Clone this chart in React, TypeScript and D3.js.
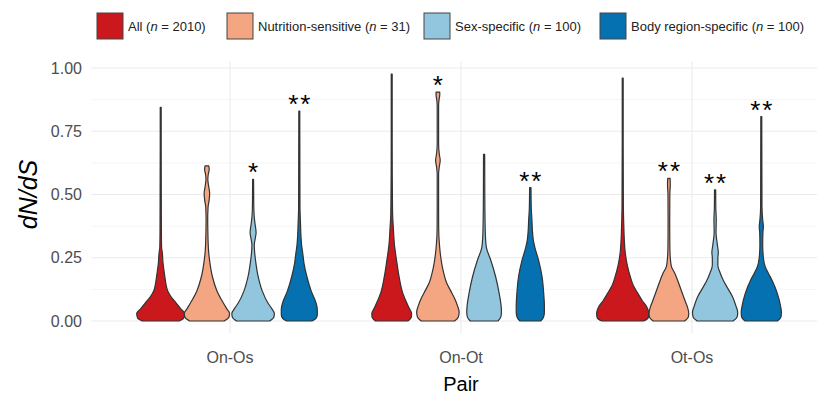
import * as d3 from 'd3';
import React, { useEffect, useRef } from 'react';

const pairs = ['On-Os', 'On-Ot', 'Ot-Os'];
const groups = ['All', 'Nutrition-sensitive', 'Sex-specific', 'Body region-specific'];
const groupN = [2010, 31, 100, 100];
const groupColors = ['#CB181D', '#F4A582', '#92C5DE', '#0571B0'];
const yTicks = [0, 0.25, 0.5, 0.75, 1];
const yMinor = [0.125, 0.375, 0.625, 0.875];

// violin outlines: [dN/dS, relative half-width]
const onOsProfiles: [number, number][][] = [
    [[0, 0.8], [0.012, 1.0], [0.03, 1.04], [0.05, 0.85], [0.07, 0.68], [0.1, 0.42], [0.12, 0.3], [0.15, 0.22], [0.175, 0.18], [0.23, 0.1], [0.27, 0.07], [0.29, 0.04], [0.35, 0.03], [0.5, 0.025], [0.7, 0.02], [0.845, 0.02]],
    [[0, 0.75], [0.015, 0.95], [0.03, 0.98], [0.05, 0.85], [0.07, 0.72], [0.12, 0.43], [0.175, 0.24], [0.23, 0.13], [0.28, 0.07], [0.32, 0.05], [0.36, 0.04], [0.4, 0.035], [0.45, 0.05], [0.48, 0.1], [0.505, 0.12], [0.53, 0.08], [0.56, 0.04], [0.58, 0.06], [0.6, 0.1], [0.613, 0.08]],
    [[0, 0.72], [0.015, 0.9], [0.03, 0.92], [0.05, 0.8], [0.07, 0.65], [0.12, 0.39], [0.175, 0.22], [0.23, 0.12], [0.28, 0.06], [0.3, 0.05], [0.33, 0.1], [0.35, 0.13], [0.38, 0.09], [0.41, 0.05], [0.45, 0.03], [0.5, 0.025], [0.56, 0.02]],
    [[0, 0.55], [0.01, 0.72], [0.025, 0.78], [0.045, 0.78], [0.07, 0.73], [0.12, 0.51], [0.175, 0.33], [0.23, 0.2], [0.26, 0.16], [0.3, 0.1], [0.34, 0.07], [0.39, 0.05], [0.45, 0.03], [0.6, 0.025], [0.83, 0.02]],
];
const onOtProfiles: [number, number][][] = [
    [[0, 0.7], [0.015, 0.85], [0.03, 0.86], [0.05, 0.76], [0.07, 0.66], [0.11, 0.48], [0.175, 0.32], [0.24, 0.21], [0.3, 0.12], [0.37, 0.07], [0.42, 0.04], [0.5, 0.03], [0.7, 0.02], [0.976, 0.02]],
    [[0, 0.72], [0.015, 0.88], [0.035, 0.92], [0.06, 0.85], [0.09, 0.72], [0.12, 0.55], [0.15, 0.38], [0.19, 0.25], [0.23, 0.16], [0.27, 0.1], [0.31, 0.06], [0.36, 0.035], [0.45, 0.03], [0.58, 0.03], [0.61, 0.06], [0.635, 0.1], [0.66, 0.06], [0.7, 0.03], [0.85, 0.03], [0.875, 0.05], [0.893, 0.08], [0.905, 0.08]],
    [[0, 0.6], [0.015, 0.72], [0.035, 0.75], [0.056, 0.74], [0.11, 0.65], [0.175, 0.5], [0.24, 0.29], [0.29, 0.1], [0.33, 0.06], [0.4, 0.04], [0.5, 0.03], [0.659, 0.025]],
    [[0, 0.45], [0.015, 0.57], [0.035, 0.61], [0.056, 0.61], [0.11, 0.58], [0.175, 0.51], [0.24, 0.36], [0.29, 0.2], [0.32, 0.13], [0.36, 0.09], [0.4, 0.07], [0.45, 0.04], [0.527, 0.03]],
];
const otOsProfiles: [number, number][][] = [
    [[0, 0.9], [0.012, 1.1], [0.03, 1.13], [0.056, 1.04], [0.08, 0.85], [0.11, 0.65], [0.14, 0.46], [0.175, 0.33], [0.22, 0.2], [0.27, 0.11], [0.32, 0.07], [0.37, 0.05], [0.45, 0.03], [0.7, 0.02], [0.96, 0.02]],
    [[0, 0.68], [0.015, 0.84], [0.03, 0.86], [0.056, 0.8], [0.08, 0.7], [0.11, 0.58], [0.16, 0.38], [0.19, 0.25], [0.215, 0.11], [0.25, 0.06], [0.3, 0.04], [0.4, 0.035], [0.5, 0.04], [0.54, 0.06], [0.564, 0.05]],
    [[0, 0.78], [0.015, 0.95], [0.035, 0.98], [0.06, 0.9], [0.095, 0.76], [0.135, 0.51], [0.16, 0.36], [0.19, 0.22], [0.22, 0.12], [0.25, 0.12], [0.27, 0.14], [0.3, 0.1], [0.35, 0.04], [0.4, 0.05], [0.45, 0.03], [0.518, 0.025]],
    [[0, 0.7], [0.015, 0.85], [0.035, 0.87], [0.056, 0.84], [0.11, 0.69], [0.16, 0.47], [0.19, 0.3], [0.215, 0.17], [0.25, 0.09], [0.3, 0.06], [0.35, 0.07], [0.373, 0.09], [0.4, 0.06], [0.45, 0.03], [0.6, 0.025], [0.808, 0.02]],
];
const onOsStars = ['', '', '*', '**'];
const onOtStars = ['', '*', '', '**'];
const otOsStars = ['', '**', '**', '**'];

const profiles = [onOsProfiles, onOtProfiles, otOsProfiles];
const stars = [onOsStars, onOtStars, otOsStars];

const legendX = [97, 227, 424, 600];

const App: React.FC = () => {
    const ref = useRef<SVGSVGElement | null>(null);

    useEffect(() => {
        const width = 817;
        const font = 'Liberation Sans, Arial, sans-serif';
        const svg = d3.select(ref.current).html('');

        const x = d3.scaleLinear().domain([0.4, 3.6]).range([91.4, 830.6]);
        const y = d3.scaleLinear().domain([-0.049, 1.025]).range([333.4, 61.7]);
        const dodge = 0.2, halfUnit = 0.1;

        // grid
        const grid = svg.append('g');
        grid.selectAll('line.minor').data(yMinor).enter().append('line')
            .attr('x1', x(0.4)).attr('x2', width)
            .attr('y1', d => y(d)).attr('y2', d => y(d))
            .attr('stroke', '#f2f2f2').attr('stroke-width', 0.8);
        grid.selectAll('line.major').data(yTicks).enter().append('line')
            .attr('x1', x(0.4)).attr('x2', width)
            .attr('y1', d => y(d)).attr('y2', d => y(d))
            .attr('stroke', '#ebebeb').attr('stroke-width', 1.1);
        grid.selectAll('line.vert').data(pairs).enter().append('line')
            .attr('x1', (_, i) => x(i + 1)).attr('x2', (_, i) => x(i + 1))
            .attr('y1', y(1.025)).attr('y2', y(-0.049))
            .attr('stroke', '#ebebeb').attr('stroke-width', 1.1);

        // y axis labels
        svg.append('g').selectAll('text').data(yTicks).enter().append('text')
            .attr('x', 82).attr('y', d => y(d) + 5.5)
            .attr('text-anchor', 'end')
            .style('font-family', font).style('font-size', '16px').attr('fill', '#4d4d4d')
            .text(d => d3.format('.2f')(d));

        // x axis labels
        svg.append('g').selectAll('text').data(pairs).enter().append('text')
            .attr('x', (_, i) => x(i + 1)).attr('y', 363)
            .attr('text-anchor', 'middle')
            .style('font-family', font).style('font-size', '16px').attr('fill', '#4d4d4d')
            .text(d => d);

        // titles
        svg.append('text')
            .attr('transform', `translate(37, ${y(0.5)}) rotate(-90)`)
            .attr('text-anchor', 'middle')
            .style('font-family', font).style('font-size', '25px').style('font-style', 'italic')
            .text('dN/dS');
        svg.append('text')
            .attr('x', x(2)).attr('y', 391)
            .attr('text-anchor', 'middle')
            .style('font-family', font).style('font-size', '20px')
            .text('Pair');

        // violins
        profiles.forEach((groupProfiles, pi) => {
            groupProfiles.forEach((prof, gi) => {
                const cx = pi + 1 + (gi - 1.5) * dodge;
                const area = d3.area<[number, number]>()
                    .y(d => y(d[0]))
                    .x0(d => x(cx - d[1] * halfUnit))
                    .x1(d => x(cx + d[1] * halfUnit))
                    .curve(d3.curveMonotoneY);
                svg.append('path')
                    .datum(prof)
                    .attr('d', area)
                    .attr('fill', groupColors[gi])
                    .attr('stroke', '#333')
                    .attr('stroke-width', 1.2)
                    .attr('stroke-linejoin', 'round');

                const s = stars[pi][gi];
                if (s) {
                    const top = prof[prof.length - 1][0];
                    svg.append('text')
                        .attr('x', x(cx) + (s.length > 1 ? 1 : 0)).attr('y', y(top) + 2)
                        .attr('text-anchor', 'middle')
                        .style('font-family', font).style('font-size', '26px')
                        .style('letter-spacing', s.length > 1 ? '2px' : '0px')
                        .text(s);
                }
            });
        });

        // legend
        const lg = svg.append('g');
        groups.forEach((g, i) => {
            lg.append('rect')
                .attr('x', legendX[i]).attr('y', 13).attr('width', 26).attr('height', 26)
                .attr('fill', groupColors[i]).attr('stroke', '#444').attr('stroke-width', 1);
            const t = lg.append('text')
                .attr('x', legendX[i] + 31).attr('y', 30.5)
                .style('font-family', font).style('font-size', '13px').attr('fill', '#222');
            t.append('tspan').text(`${g} (`);
            t.append('tspan').style('font-style', 'italic').text('n');
            t.append('tspan').text(` = ${groupN[i]})`);
        });
    }, []);

    return (
        <svg ref={ref} width={817} height={397}
            style={{ position: 'absolute', left: 0, top: 0, background: '#fff' }} />
    );
};

export default App;
